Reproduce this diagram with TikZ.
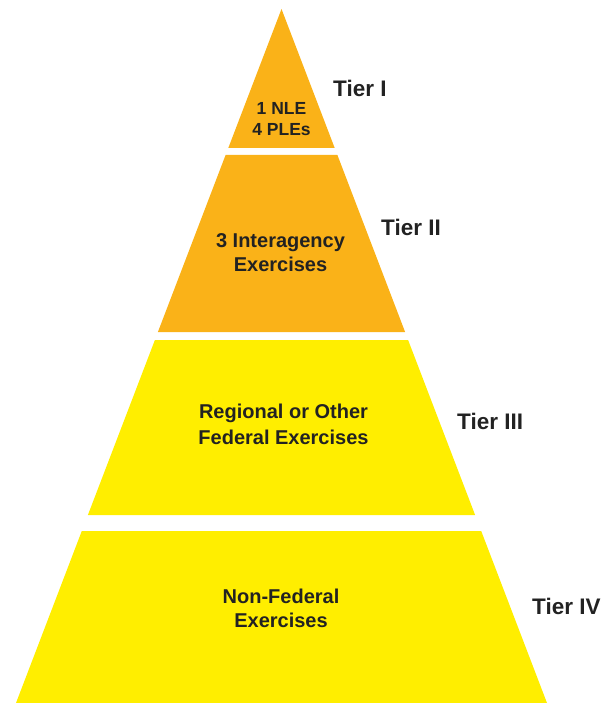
\documentclass[tikz,border=0pt]{standalone}
\usepackage{fontspec}
\setmainfont{Liberation Sans}
\definecolor{tierorange}{RGB}{250,178,24}
\definecolor{tieryellow}{RGB}{255,238,0}
\definecolor{txt}{RGB}{34,34,34}
\begin{document}
\begin{tikzpicture}[x=1pt,y=-1pt,
  inner/.style={align=center,text=txt,font=\bfseries\fontsize{20}{24}\selectfont,inner sep=0pt},
  tierlabel/.style={anchor=west,text=txt,font=\bfseries\fontsize{22.5}{26}\selectfont,inner sep=0pt}]
\useasboundingbox (0,0) rectangle (613,703);
% tiers
\fill[tierorange] (281.5,9) -- (334.7,148) -- (228.3,148) -- cycle;
\fill[tierorange] (225.6,155) -- (337.4,155) -- (405.1,332) -- (157.9,332) -- cycle;
\fill[tieryellow] (154.9,340) -- (408.1,340) -- (475.1,515) -- (87.9,515) -- cycle;
\fill[tieryellow] (81.8,531) -- (481.2,531) -- (547,703) -- (16,703) -- cycle;
% inner texts
\node[inner,font=\bfseries\fontsize{17.5}{21}\selectfont] (t1) at (281.5,119.5) {1 NLE\\4 PLEs};
\node[inner] (t2) at (280.5,253) {3 Interagency\\Exercises};
\node[inner,font=\bfseries\fontsize{20}{26}\selectfont] (t3) at (283.5,424) {Regional or Other\\Federal Exercises};
\node[inner] (t4) at (281,608) {Non-Federal\\Exercises};
% tier labels
\node[tierlabel] (l1) at (333,88) {Tier I};
\node[tierlabel] (l2) at (381,227) {Tier II};
\node[tierlabel] (l3) at (457,421) {Tier III};
\node[tierlabel] (l4) at (532,606) {Tier IV};
\end{tikzpicture}
\end{document}
